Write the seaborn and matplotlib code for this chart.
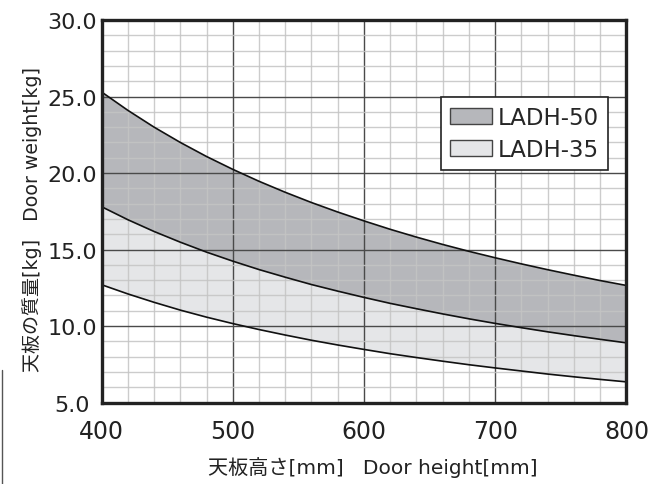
import matplotlib
matplotlib.use("Agg")
import matplotlib.pyplot as plt
import seaborn as sns
import pandas as pd
from matplotlib.patches import Patch
from matplotlib.lines import Line2D
from matplotlib.ticker import MultipleLocator

sns.set_theme(style="white")
plt.rcParams['font.family'] = ['DejaVu Sans', 'Noto Sans CJK JP']

height = [400, 420, 440, 460, 480, 500, 520, 540, 560, 580, 600,
          620, 640, 660, 680, 700, 720, 740, 760, 780, 800]
ladh50_upper = [25.3, 24.1, 23.0, 22.0, 21.08, 20.24, 19.46, 18.74, 18.07, 17.45, 16.87,
                16.32, 15.81, 15.33, 14.88, 14.46, 14.06, 13.68, 13.32, 12.97, 12.65]
ladh35_upper = [17.8, 16.95, 16.18, 15.48, 14.83, 14.24, 13.69, 13.19, 12.71, 12.28, 11.87,
                11.48, 11.13, 10.79, 10.47, 10.17, 9.89, 9.62, 9.37, 9.13, 8.9]
ladh35_lower = [12.7, 12.10, 11.55, 11.04, 10.58, 10.16, 9.77, 9.41, 9.07, 8.76, 8.47,
                8.19, 7.94, 7.70, 7.47, 7.26, 7.06, 6.86, 6.68, 6.51, 6.35]
series_names = ["LADH-50", "LADH-35"]
x_ticks = [400, 500, 600, 700, 800]
y_ticks = [5.0, 10.0, 15.0, 20.0, 25.0, 30.0]

df = pd.DataFrame({"h": height, "u50": ladh50_upper, "u35": ladh35_upper, "l35": ladh35_lower})

dark = "#b6b7bb"
light = "#e5e6e8"

fig = plt.figure(figsize=(6.67, 4.85), dpi=100)
ax = fig.add_axes([0.1522, 0.168, 0.787, 0.7887])

ax.set_xlim(400, 800)
ax.set_ylim(5, 30)

ax.fill_between(df["h"], df["l35"], df["u35"], color=light, zorder=1, linewidth=0)
ax.fill_between(df["h"], df["u35"], df["u50"], color=dark, zorder=1, linewidth=0)

# grid drawn above fills
ax.set_axisbelow(False)
ax.xaxis.set_minor_locator(MultipleLocator(20))
ax.yaxis.set_minor_locator(MultipleLocator(1))
ax.grid(which="minor", color="#c4c4c4", linewidth=1.0, zorder=2, alpha=0.85)
ax.grid(which="major", color="#4a4a4a", linewidth=1.0, zorder=2)

for col in ["u50", "u35", "l35"]:
    sns.lineplot(data=df, x="h", y=col, ax=ax, color="#111111", linewidth=1.2, zorder=3)

ax.set_xticks(x_ticks)
ax.set_xticklabels([str(v) for v in x_ticks])
ax.set_yticks(y_ticks)
ax.set_yticklabels([f"{v:.1f}" for v in y_ticks])
ax.tick_params(axis="both", which="both", length=0, colors="#222222")
ax.tick_params(axis="x", labelsize=17, pad=12)
ax.tick_params(axis="y", labelsize=16, pad=21)
for lbl in ax.get_yticklabels():
    lbl.set_horizontalalignment("center")

for s in ax.spines.values():
    s.set_visible(True)
    s.set_color("#222222")
    s.set_linewidth(2.4)
    s.set_zorder(4)

ax.set_xlabel("天板高さ[mm]   Door height[mm]", fontsize=14.5, color="#222222")
ax.set_ylabel("天板の質量[kg]   Door weight[kg]", fontsize=13.7, color="#222222")
ax.xaxis.set_label_coords(0.516, -0.140)
ax.yaxis.set_label_coords(-0.113, 0.482)

handles = [Patch(facecolor=dark, edgecolor="#444444", linewidth=1.0),
           Patch(facecolor=light, edgecolor="#444444", linewidth=1.0)]
leg = ax.legend(handles, series_names, loc="upper left", bbox_to_anchor=(0.647, 0.798),
                fontsize=16.5, frameon=True, fancybox=False, edgecolor="#222222",
                framealpha=1, handlelength=1.83, handleheight=0.74, handletextpad=0.26,
                borderpad=0.38, labelspacing=0.4, borderaxespad=0)
leg.get_frame().set_linewidth(1.2)
leg.set_zorder(5)

# thin edge line at the far left of the picture
fig.add_artist(Line2D([0.003, 0.003], [0.0, 0.235], color="#555555", linewidth=1.0,
                      transform=fig.transFigure))

fig.savefig("out.png", dpi=100)
